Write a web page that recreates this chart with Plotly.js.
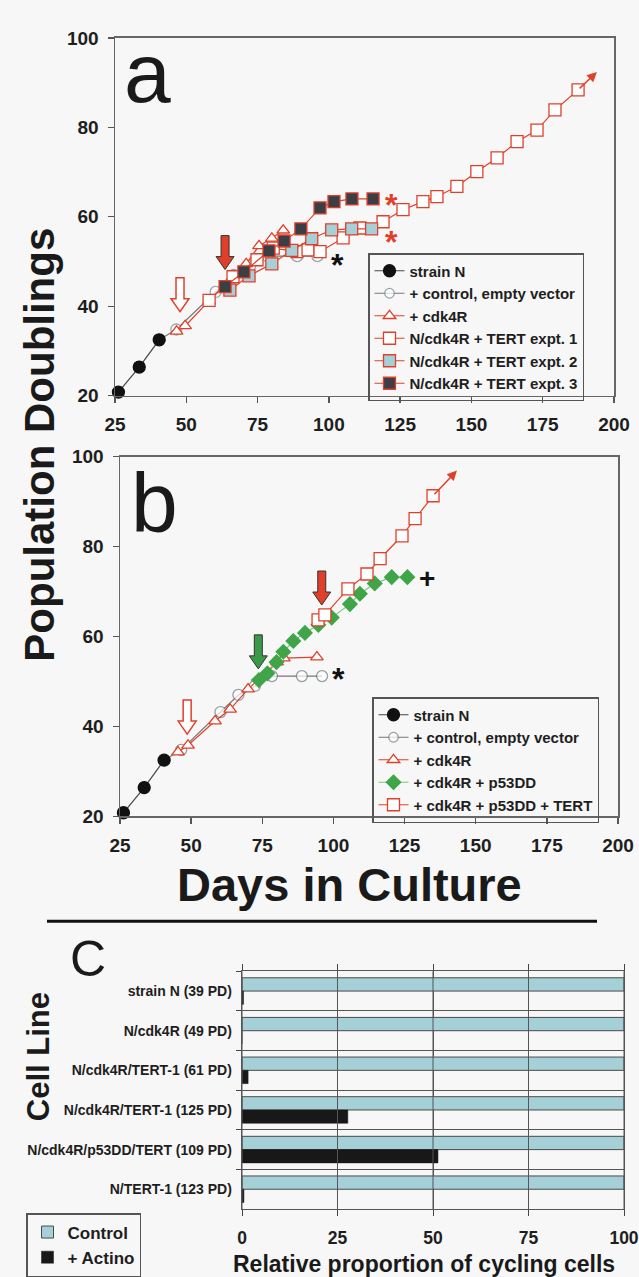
<!DOCTYPE html>
<html><head><meta charset="utf-8">
<script src="https://cdn.plot.ly/plotly-3.0.1.min.js"></script>
<style>html,body{margin:0;padding:0;background:#f6f7f6;} #chart{width:639px;height:1277px;}</style>
</head><body><div id="chart"></div>
<script>
// ---------------- DATA ----------------
// shared growth curves (panels a and b)
const strainN_days = [26.2, 33.5, 40.5];
const strainN_pd   = [20.8, 26.4, 32.5];
const control_days = [40.5, 46.5, 60.3, 66.6, 72.4, 78.4, 88.9, 96.0];
const control_pd   = [32.5, 34.8, 43.2, 47.0, 49.0, 51.2, 51.2, 51.2];

// panel a
const cdk4R_a_days = [46.6, 49.6, 58.0, 66.0, 71.0, 75.5, 80.0, 84.0];
const cdk4R_a_pd   = [34.4, 35.6, 41.2, 46.3, 49.5, 53.5, 55.2, 57.0];
const tert1_days = [58.0, 66.4, 74.8, 80.5, 88.8, 92.7, 96.9, 105.0, 110.9, 119.0, 126.0, 133.0, 137.9, 144.9, 151.9, 159.0, 166.0, 173.0, 179.3, 187.4];
const tert1_pd   = [41.3, 46.6, 50.4, 53.0, 52.2, 52.6, 52.2, 55.3, 57.5, 58.9, 61.6, 63.4, 64.5, 66.8, 70.1, 73.2, 76.8, 79.4, 83.9, 88.4];
const tert1_arrowTip = [194.0, 92.4];
const tert2_days = [65.3, 72.0, 80.0, 87.0, 94.0, 101.0, 108.0, 115.0];
const tert2_pd   = [43.6, 46.8, 49.5, 52.5, 55.1, 57.1, 57.3, 57.3];
const tert3_days = [63.6, 70.2, 79.0, 84.3, 90.2, 96.9, 101.8, 108.1, 115.5];
const tert3_pd   = [44.4, 47.7, 52.4, 54.6, 57.3, 62.0, 63.4, 64.0, 64.0];
const arrowsA = {open: [47.8, 38.8], red: [63.6, 48.2]};
const marksA = [{t: '*', d: 103.0, v: 51.2, c: '#111'}, {t: '*', d: 122.0, v: 64.6, c: '#e0402a'}, {t: '*', d: 122.0, v: 56.4, c: '#e0402a'}];

// panel b
const cdk4R_b_days = [45.4, 48.9, 58.4, 63.7, 70.0, 80.2, 82.6, 94.2];
const cdk4R_b_pd   = [34.3, 35.8, 41.2, 43.8, 48.3, 54.3, 55.2, 55.4];
const p53_days = [73.8, 76.8, 80.0, 82.4, 85.9, 90.0, 94.7, 99.4, 105.8, 109.3, 114.5, 120.5, 126.0];
const p53_pd   = [50.3, 51.8, 54.3, 56.6, 59.0, 60.8, 62.6, 64.2, 67.2, 69.5, 71.8, 73.2, 73.2];
const tertB_days = [94.6, 97.0, 105.1, 111.8, 116.4, 124.1, 128.7, 135.0];
const tertB_pd   = [63.7, 64.8, 70.6, 73.9, 77.3, 82.4, 86.2, 91.3];
const tertB_arrowTip = [143.4, 96.9];
const arrowsB = {open: [48.6, 38.3], green: [73.6, 52.8], red: [95.9, 67.0]};
const marksB = [{t: '*', d: 101.8, v: 52.6, c: '#111'}, {t: '+', d: 133.0, v: 72.8, c: '#111'}];

// panel c
const cellLines = ['strain N (39 PD)', 'N/cdk4R (49 PD)', 'N/cdk4R/TERT-1 (61 PD)', 'N/cdk4R/TERT-1 (125 PD)', 'N/cdk4R/p53DD/TERT (109 PD)', 'N/TERT-1 (123 PD)'];
const controlPct = [100, 100, 100, 100, 100, 100];
const actinoPct  = [0.4, 0, 1.6, 27.7, 51.3, 0.5];

const dayTicks = [25, 50, 75, 100, 125, 150, 175, 200];
const pdTicks  = [20, 40, 60, 80, 100];
const pctTicks = [0, 25, 50, 75, 100];

// ---------------- STYLE ----------------
const FONT = 'Arial, "Liberation Sans", sans-serif';
const RED = '#e0402a', GREEN = '#3fa548', TEAL = '#a6d0d8', DARK = '#3b3f45';
const bold = (s, c) => ({family: FONT, size: s, color: c || '#1e1e1e', weight: 'bold'});

function growth(xa, ya, leg, name, x, y, sym, mcol, lcol, lnCol, size, rank) {
  return {
    type: 'scatter', mode: 'lines+markers', x: x, y: y, name: name,
    xaxis: xa, yaxis: ya, legend: leg, legendrank: rank, cliponaxis: false,
    line: {color: lnCol, width: 1.2},
    marker: {symbol: sym, size: size, color: mcol, line: {color: lcol, width: 1.3}}
  };
}
const ctrlSizes = control_days.map((d, i) => i === 0 ? 0 : 11);

const traces = [
  // panel a
  growth('x', 'y', 'legend', '+ control, empty vector', control_days, control_pd, 'circle', '#ffffff', '#6f8590', '#777', ctrlSizes, 2),
  growth('x', 'y', 'legend', '+ cdk4R', cdk4R_a_days, cdk4R_a_pd, 'triangle-up', '#ffffff', RED, RED, 11, 3),
  growth('x', 'y', 'legend', 'N/cdk4R + TERT expt. 1', tert1_days, tert1_pd, 'square', '#ffffff', RED, RED, 12, 4),
  growth('x', 'y', 'legend', 'N/cdk4R + TERT expt. 2', tert2_days, tert2_pd, 'square', TEAL, RED, RED, 12, 5),
  growth('x', 'y', 'legend', 'N/cdk4R + TERT expt. 3', tert3_days, tert3_pd, 'square', DARK, RED, RED, 12, 6),
  growth('x', 'y', 'legend', 'strain N', strainN_days, strainN_pd, 'circle', '#111', '#111', '#444', 12, 1),
  // panel b
  growth('x2', 'y2', 'legend2', '+ control, empty vector', control_days, control_pd, 'circle', '#ffffff', '#6f7a80', '#777', ctrlSizes, 2),
  growth('x2', 'y2', 'legend2', '+ cdk4R', cdk4R_b_days, cdk4R_b_pd, 'triangle-up', '#ffffff', RED, RED, 11, 3),
  growth('x2', 'y2', 'legend2', '+ cdk4R + p53DD', p53_days, p53_pd, 'diamond', GREEN, GREEN, '#7cc47f', 11, 4),
  growth('x2', 'y2', 'legend2', '+ cdk4R + p53DD + TERT', tertB_days, tertB_pd, 'square', '#ffffff', RED, RED, 12, 5),
  growth('x2', 'y2', 'legend2', 'strain N', strainN_days, strainN_pd, 'circle', '#111', '#111', '#444', 12, 1),
  // panel c
  {type: 'bar', orientation: 'h', x: controlPct, y: cellLines, name: 'Control', xaxis: 'x3', yaxis: 'y3', legend: 'legend3',
   marker: {color: TEAL, line: {color: '#4a4a4a', width: 1}}},
  {type: 'bar', orientation: 'h', x: actinoPct, y: cellLines, name: '+ Actino', xaxis: 'x3', yaxis: 'y3', legend: 'legend3',
   marker: {color: '#181818', line: {color: '#181818', width: 0.5}}}
];

function blockArrow(xr, yr, tip, fill, edge, ew) {
  const hw = 9, hh = 13, sw = 4, H = 34;
  const p = `M0,0 L${-hw},${hh} L${-sw},${hh} L${-sw},${H} L${sw},${H} L${sw},${hh} L${hw},${hh} Z`;
  return {type: 'path', xref: xr, yref: yr, xsizemode: 'pixel', ysizemode: 'pixel',
          xanchor: tip[0], yanchor: tip[1], path: p, fillcolor: fill, line: {color: edge, width: ew}};
}
function lineArrow(xr, yr, tip, fromX, fromY) {
  return {xref: xr, yref: yr, axref: xr, ayref: yr, x: tip[0], y: tip[1], ax: fromX, ay: fromY,
          text: '', showarrow: true, arrowhead: 2, arrowsize: 1.3, arrowwidth: 1.5, arrowcolor: RED, standoff: 0};
}
function mark(xr, yr, m) {
  return {xref: xr, yref: yr, x: m.d, y: m.v, text: m.t, showarrow: false,
          font: bold(m.t === '*' ? 32 : 28, m.c), yshift: m.t === '*' ? -9 : 0};
}
function paperText(t, px, py, size, angle, weight) {
  return {xref: 'paper', yref: 'paper', x: px / 639, y: 1 - py / 1277, text: t, showarrow: false,
          xanchor: 'center', yanchor: 'middle', textangle: angle || 0,
          font: {family: FONT, size: size, color: '#1a1a1a', weight: weight || 'bold'}};
}

// vertical grid lines of panel c, drawn over the bars as in the original
const gridC = pctTicks.map(t => ({type: 'line', xref: 'x3', yref: 'y3 domain', x0: t, x1: t, y0: 0, y1: 1,
  line: {color: '#555', width: 1}, layer: 'above'}));

const shapes = [
  blockArrow('x', 'y', arrowsA.open, '#ffffff', RED, 1.5),
  blockArrow('x', 'y', arrowsA.red, RED, '#333', 1),
  blockArrow('x2', 'y2', arrowsB.open, '#ffffff', RED, 1.5),
  blockArrow('x2', 'y2', arrowsB.green, '#3a9a4a', '#333', 1),
  blockArrow('x2', 'y2', arrowsB.red, RED, '#333', 1),
  {type: 'line', xref: 'paper', yref: 'paper', x0: 47 / 639, x1: 597 / 639, y0: 1 - 922 / 1277, y1: 1 - 922 / 1277,
   line: {color: '#111', width: 3}},
  ...gridC
];

const annotations = [
  lineArrow('x', 'y', tert1_arrowTip, tert1_days[tert1_days.length - 1], tert1_pd[tert1_pd.length - 1]),
  lineArrow('x2', 'y2', tertB_arrowTip, tertB_days[tertB_days.length - 1], tertB_pd[tertB_pd.length - 1]),
  ...marksA.map(m => mark('x', 'y', m)),
  ...marksB.map(m => mark('x2', 'y2', m)),
  paperText('a', 147, 73, 84, 0, 'normal'),
  paperText('b', 154, 503, 84, 0, 'normal'),
  paperText('C', 88, 960, 50, 0, 'normal'),
  paperText('Population Doublings', 40, 445, 42, -90),
  paperText('Days in Culture', 349, 885, 47, 0),
  paperText('Cell Line', 38, 1058, 31, -90),
  paperText('Relative proportion of cycling cells', 424, 1265, 23, 0)
];

function linAxis(dom, range, ticks, anchor) {
  return {domain: dom, range: range, tickvals: ticks, ticks: 'outside', ticklen: 6, tickwidth: 1.3, tickcolor: '#555',
          showline: true, linecolor: '#666', linewidth: 1.5, mirror: true, showgrid: false, zeroline: false,
          tickfont: bold(19), ticklabelstandoff: 5, anchor: anchor, fixedrange: true};
}
const legendBase = (x, y, size) => ({x: x, y: y, xanchor: 'left', yanchor: 'top', xref: 'paper', yref: 'paper',
  bgcolor: 'rgba(255,255,255,0)', bordercolor: '#555', borderwidth: 1.5, font: bold(size), itemwidth: 30, traceorder: 'normal'});

const layout = {
  width: 639, height: 1277, margin: {l: 0, r: 0, t: 0, b: 0},
  paper_bgcolor: '#f6f7f6', plot_bgcolor: '#f6f7f6',
  font: {family: FONT, color: '#1e1e1e'},
  xaxis:  linAxis([115 / 639, 614 / 639], [25, 200], dayTicks, 'y'),
  yaxis:  linAxis([1 - 396 / 1277, 1 - 38 / 1277], [20, 100], pdTicks, 'x'),
  xaxis2: linAxis([120 / 639, 618 / 639], [25, 200], dayTicks, 'y2'),
  yaxis2: linAxis([1 - 817 / 1277, 1 - 457 / 1277], [20, 100], pdTicks, 'x2'),
  xaxis3: {domain: [242 / 639, 624 / 639], range: [0, 100], tickvals: pctTicks, anchor: 'y3',
           ticks: 'outside', ticklen: 6, tickcolor: '#444', showline: true, linecolor: '#555', linewidth: 1.3, mirror: 'ticks',
           showgrid: true, gridcolor: '#555', gridwidth: 1, zeroline: false, tickfont: bold(17.5), ticklabelstandoff: 7,
           ticklabeloverflow: 'allow', fixedrange: true},
  yaxis3: {domain: [1 - 1210 / 1277, 1 - 972 / 1277], type: 'category', autorange: 'reversed', anchor: 'x3',
           tickson: 'boundaries', ticks: 'outside', ticklen: 5, tickcolor: '#444', showgrid: true, gridcolor: '#555', gridwidth: 1,
           showline: true, linecolor: '#555', linewidth: 1.3, mirror: true, tickfont: bold(14), ticklabelstandoff: 6, fixedrange: true},
  barmode: 'group', bargap: 0.33, bargroupgap: 0,
  legend:  legendBase(368 / 639, 1 - 253 / 1277, 15),
  legend2: legendBase(372 / 639, 1 - 697 / 1277, 15),
  legend3: legendBase(26 / 639, 1 - 1214 / 1277, 17),
  shapes: shapes, annotations: annotations, showlegend: true
};

Plotly.newPlot('chart', traces, layout, {displayModeBar: false, staticPlot: true});
</script>
</body></html>
